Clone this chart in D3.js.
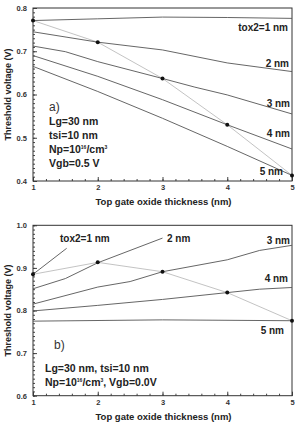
<!DOCTYPE html>
<html>
<head>
<meta charset="utf-8">
<script src="https://cdn.jsdelivr.net/npm/d3@7"></script>
<style>
  body { margin: 0; background: #fff; }
  svg { display: block; font-family: "Liberation Sans", Arial, sans-serif; }
  .tick text { font-weight: bold; fill: #333; }
</style>
</head>
<body>
<div id="chart"></div>
<script>
// x axis (top gate oxide thickness, nm)
const xTicks = [1, 2, 3, 4, 5];
const yTicksA = [0.4, 0.5, 0.6, 0.7, 0.8];
const yTicksB = [0.6, 0.7, 0.8, 0.9, 1.0];
const curveNames = ["tox2=1 nm", "2 nm", "3 nm", "4 nm", "5 nm"];

// panel a) Vgb = 0.5 V
const aTox1 = [[1, 0.771], [2, 0.775], [3, 0.779], [4, 0.778], [5, 0.776]];
const aTox2 = [[1, 0.745], [2, 0.721], [3, 0.703], [4, 0.673], [5, 0.653]];
const aTox3 = [[1, 0.712], [1.5, 0.699], [2, 0.676], [3, 0.637], [3.5, 0.617], [4, 0.599], [5, 0.555]];
const aTox4 = [[1, 0.690], [2, 0.642], [3, 0.588], [4, 0.530], [5, 0.474]];
const aTox5 = [[1, 0.665], [2, 0.607], [3, 0.545], [4, 0.480], [5, 0.413]];
const aEqual = [[1, 0.771], [2, 0.721], [3, 0.637], [4, 0.530], [5, 0.413]];

// panel b) Vgb = 0.0 V
const bTox1 = [[1, 0.885], [1.52, 0.946]];
const bTox2 = [[1, 0.851], [1.5, 0.875], [2, 0.912], [3, 0.970]];
const bTox3 = [[1, 0.815], [2, 0.855], [2.5, 0.868], [3, 0.891], [4, 0.919], [4.5, 0.941], [5, 0.953]];
const bTox4 = [[1, 0.799], [2, 0.812], [3, 0.826], [4, 0.842], [4.5, 0.850], [5, 0.854]];
const bTox5 = [[1, 0.775], [3, 0.778], [5, 0.776]];
const bEqual = [[1, 0.885], [2, 0.913], [3, 0.891], [4, 0.842], [5, 0.776]];

const width = 295, height = 426;
const left = 33, right = 292;

const svg = d3.select("#chart").append("svg")
  .attr("width", width)
  .attr("height", height);

const xScale = d3.scaleLinear().domain([1, 5]).range([left, right]);
const line = (ys) => d3.line().x(d => xScale(d[0])).y(d => ys(d[1]));

function frame(ys, yTicks, top, bottom) {
  const g = svg.append("g");

  // minor ticks
  g.append("g")
    .attr("transform", `translate(0,${bottom})`)
    .call(d3.axisBottom(xScale).tickValues(d3.range(1, 5.01, 0.2)).tickSize(-2).tickFormat(""))
    .call(a => a.select(".domain").remove());
  g.append("g")
    .attr("transform", `translate(${left},0)`)
    .call(d3.axisLeft(ys).tickValues(d3.range(yTicks[0], yTicks[4] + 0.001, 0.01)).tickSize(-2).tickFormat(""))
    .call(a => a.select(".domain").remove());

  // major ticks + labels
  g.append("g")
    .attr("transform", `translate(0,${bottom})`)
    .call(d3.axisBottom(xScale).tickValues(xTicks).tickSize(-4).tickPadding(4).tickFormat(d3.format("d")))
    .call(a => a.select(".domain").remove())
    .selectAll("text").attr("font-size", 7.5);
  g.append("g")
    .attr("transform", `translate(${left},0)`)
    .call(d3.axisLeft(ys).tickValues(yTicks).tickSize(-4).tickPadding(6).tickFormat(d3.format(".1f")))
    .call(a => a.select(".domain").remove())
    .selectAll("text").attr("font-size", 7.5);

  g.selectAll(".tick line").attr("stroke", "#444");

  g.append("rect")
    .attr("x", left).attr("y", top)
    .attr("width", right - left).attr("height", bottom - top)
    .attr("fill", "none").attr("stroke", "#333").attr("stroke-width", 1);

  // axis titles
  g.append("text")
    .attr("transform", `translate(8,${(top + bottom) / 2}) rotate(-90)`)
    .attr("text-anchor", "middle").attr("dy", "0.35em")
    .attr("font-size", 9).attr("font-weight", "bold").attr("fill", "#222")
    .text("Threshold voltage (V)");
  g.append("text")
    .attr("x", (left + right) / 2 + 1).attr("y", bottom + 21)
    .attr("text-anchor", "middle").attr("dy", "0.35em")
    .attr("font-size", 9.5).attr("font-weight", "bold").attr("fill", "#222")
    .text("Top gate oxide thickness (nm)");
}

function curves(ys, series, equal) {
  const g = svg.append("g");
  g.append("path")
    .attr("d", line(ys)(equal))
    .attr("fill", "none").attr("stroke", "#b4b4b4").attr("stroke-width", 0.8);
  g.selectAll(".curve")
    .data(series)
    .enter()
    .append("path")
      .attr("d", d => line(ys)(d))
      .attr("fill", "none").attr("stroke", "#555").attr("stroke-width", 0.9);
  g.selectAll(".dot")
    .data(equal)
    .enter()
    .append("circle")
      .attr("cx", d => xScale(d[0]))
      .attr("cy", d => ys(d[1]))
      .attr("r", 2)
      .attr("fill", "#111");
}

function label(x, y, txt, anchor, size) {
  return svg.append("text")
    .attr("x", x).attr("y", y).attr("dy", "0.35em")
    .attr("text-anchor", anchor || "start")
    .attr("font-size", size || 10).attr("font-weight", "bold").attr("fill", "#222")
    .text(txt);
}

// superscript helper: raise by 4px then drop back
function sup(t, s) {
  t.append("tspan").attr("font-size", 5).attr("dy", -4).text(s);
}
function base(t, s) {
  t.append("tspan").attr("dy", 4).text(s);
}

// ---------- panel a ----------
const yA = d3.scaleLinear().domain([0.4, 0.8]).range([181, 8]);
frame(yA, yTicksA, 8, 181);
curves(yA, [aTox1, aTox2, aTox3, aTox4, aTox5], aEqual);

label(288, 27, curveNames[0], "end");
label(289, 63, curveNames[1], "end");
label(290, 103, curveNames[2], "end");
label(290, 133.5, curveNames[3], "end");
label(283, 171.5, curveNames[4], "end");

svg.append("text").attr("x", 49).attr("y", 107).attr("dy", "0.35em")
  .attr("font-size", 12).attr("fill", "#333").text("a)");
label(49, 121, "Lg=30 nm", "start", 10.5);
label(49, 135, "tsi=10 nm", "start", 10.5);
const npA = label(49, 149, "Np=10", "start", 10.5);
sup(npA, "16");
base(npA, "/cm");
sup(npA, "3");
label(49, 163, "Vgb=0.5 V", "start", 10.5);

// ---------- panel b ----------
const yB = d3.scaleLinear().domain([0.6, 1.0]).range([395.7, 225.3]);
frame(yB, yTicksB, 225.3, 395.7);
curves(yB, [bTox1, bTox2, bTox3, bTox4, bTox5], bEqual);

label(60, 238, curveNames[0], "start");
label(167, 238, curveNames[1], "start");
label(290, 240, curveNames[2], "end");
label(288, 278, curveNames[3], "end");
label(284, 330, curveNames[4], "end");

svg.append("text").attr("x", 54).attr("y", 345).attr("dy", "0.35em")
  .attr("font-size", 12).attr("fill", "#333").text("b)");
label(45, 368, "Lg=30 nm, tsi=10 nm", "start", 10.5);
const npB = label(45, 382, "Np=10", "start", 10.5);
sup(npB, "16");
base(npB, "/cm");
sup(npB, "3");
base(npB, ", Vgb=0.0V");
</script>
</body>
</html>
